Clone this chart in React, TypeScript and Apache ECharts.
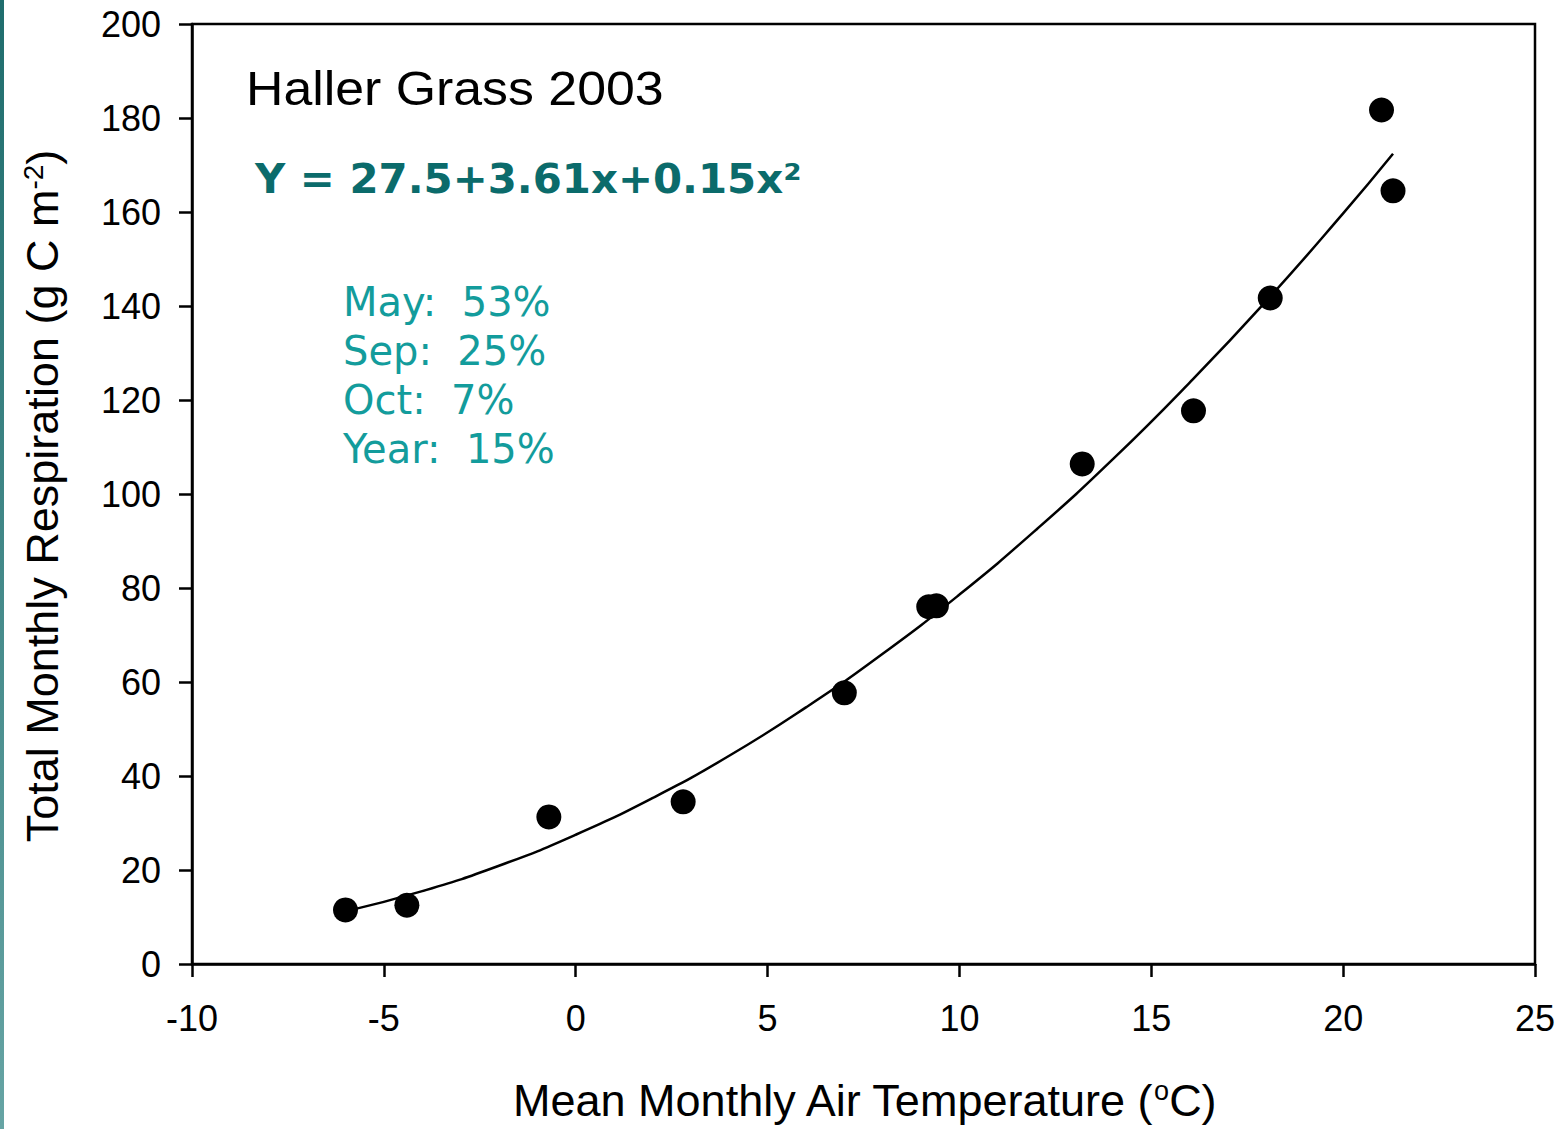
import React, { useEffect, useRef } from "react";
import * as echarts from "echarts";

const temps = [-6.0, -4.4, -0.7, 2.8, 7.0, 9.2, 9.4, 13.2, 16.1, 18.1, 21.0, 21.3];
const resp = [11.5, 12.5, 31.3, 34.5, 57.7, 76.0, 76.2, 106.4, 117.7, 141.7, 181.7, 164.5];

const fitX = [-6, -4, -2, 0, 2, 4, 6, 8, 10, 12, 14, 16, 18, 20, 21.3];
const fitY = [11.2, 15.5, 20.9, 27.5, 35.3, 44.3, 54.6, 66.0, 78.6, 92.4, 107.4, 123.7, 141.1, 159.7, 172.4];

const chartTitle = "Haller Grass 2003";
const equation = "Y = 27.5+3.61x+0.15x²";
const statLines = ["May:  53%", "Sep:  25%", "Oct:  7%", "Year:  15%"];

const SANS = "'Liberation Sans', Arial, sans-serif";
const DJ = "'DejaVu Sans', Verdana, sans-serif";

export default function App() {
  const ref = useRef<HTMLDivElement>(null);
  useEffect(() => {
    if (!ref.current) return;
    const chart = echarts.init(ref.current, undefined, { renderer: "svg" });
    const axisCommon = {
      type: "value" as const,
      axisLine: { show: true, onZero: false, lineStyle: { color: "#000", width: 2.5 } },
      axisTick: { show: true, inside: false, length: 13, lineStyle: { color: "#000", width: 2.5 } },
      splitLine: { show: false },
    };
    chart.setOption({
      animation: false,
      backgroundColor: "#fff",
      grid: { left: 192, right: 31, top: 24, bottom: 165, show: true, borderColor: "#000", borderWidth: 2.5 },
      xAxis: {
        ...axisCommon,
        min: -10,
        max: 25,
        interval: 5,
        axisLabel: { color: "#000", fontSize: 36, fontFamily: SANS, margin: 36 },
      },
      yAxis: {
        ...axisCommon,
        min: 0,
        max: 200,
        interval: 20,
        axisLabel: { color: "#000", fontSize: 36, fontFamily: SANS, margin: 31 },
      },
      series: [
        {
          type: "line",
          data: fitX.map((x, i) => [x, fitY[i]]),
          smooth: true,
          showSymbol: false,
          lineStyle: { color: "#000", width: 2.5 },
          z: 2,
        },
        {
          type: "scatter",
          data: temps.map((x, i) => [x, resp[i]]),
          symbol: "circle",
          symbolSize: 25,
          itemStyle: { color: "#000", opacity: 1 },
          z: 3,
        },
      ],
      graphic: [
        {
          type: "rect",
          shape: { x: 0, y: 0, width: 4, height: 1129 },
          style: {
            fill: new echarts.graphic.LinearGradient(0, 0, 0, 1, [
              { offset: 0, color: "#1f6d6d" },
              { offset: 1, color: "#66a4a4" },
            ]),
          },
        },
        {
          type: "text",
          x: 246,
          y: 89,
          scaleX: 1.08,
          style: { text: chartTitle, font: `48px ${SANS}`, fill: "#000", align: "left", verticalAlign: "middle" },
        },
        {
          type: "text",
          x: 255,
          y: 179,
          scaleX: 1.046,
          style: { text: equation, font: `bold 40px ${DJ}`, fill: "#0b6b6b", align: "left", verticalAlign: "middle" },
        },
        ...statLines.map((t, i) => ({
          type: "text",
          x: 343,
          y: 302 + i * 49,
          style: { text: t, font: `40px ${DJ}`, fill: "#139c9c", align: "left", verticalAlign: "middle" },
        })),
        {
          type: "text",
          x: 864,
          y: 1100,
          style: {
            text: "{a|Mean Monthly Air Temperature (}{s|o}{a|C)}",
            align: "center",
            verticalAlign: "middle",
            rich: {
              a: { fontSize: 45, fontFamily: SANS, fill: "#000", color: "#000", verticalAlign: "bottom" },
              s: { fontSize: 27, fontFamily: SANS, fill: "#000", color: "#000", verticalAlign: "top" },
            },
          },
        },
        {
          type: "text",
          x: 42,
          y: 496,
          rotation: Math.PI / 2,
          style: {
            text: "{a|Total Monthly Respiration (g C m}{s|-2}{a|)}",
            align: "center",
            verticalAlign: "middle",
            rich: {
              a: { fontSize: 45, fontFamily: SANS, fill: "#000", color: "#000", verticalAlign: "bottom" },
              s: { fontSize: 28, fontFamily: SANS, fill: "#000", color: "#000", verticalAlign: "top" },
            },
          },
        },
      ],
    });
    return () => chart.dispose();
  }, []);
  return (
    <div
      ref={ref}
      style={{ position: "fixed", left: 0, top: 0, width: 1566, height: 1129, background: "#fff" }}
    />
  );
}
